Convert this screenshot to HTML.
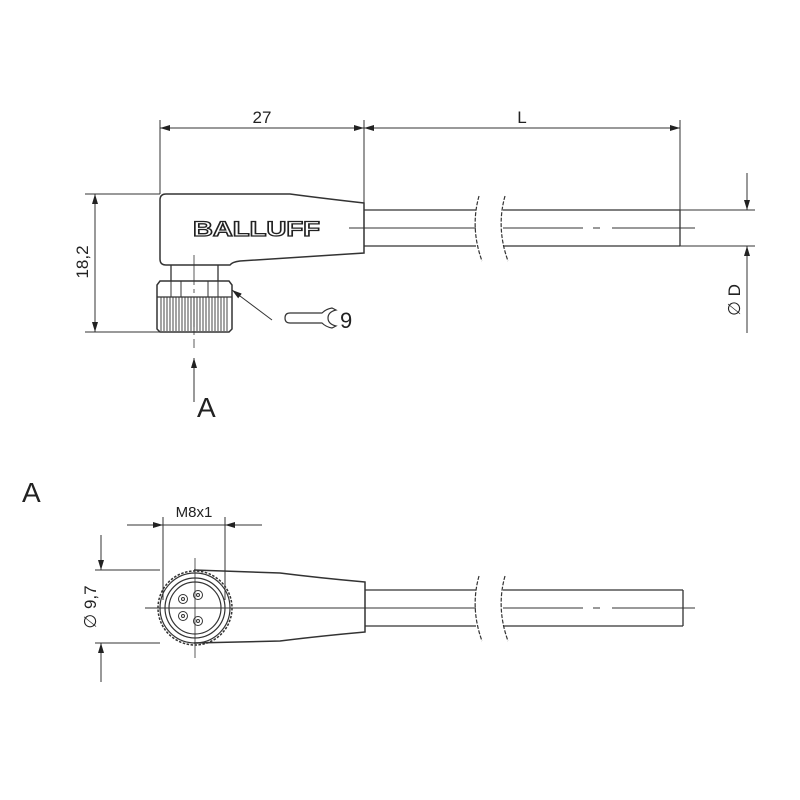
<!DOCTYPE html>
<html><head><meta charset="utf-8"><style>
html,body{margin:0;padding:0;background:#fff;}
svg{display:block;}
text{font-family:"Liberation Sans",Arial,sans-serif;fill:#222;}
</style></head><body>
<svg width="800" height="800" viewBox="0 0 800 800" xmlns="http://www.w3.org/2000/svg">
<defs>
<marker id="ar" viewBox="0 0 10 6" refX="10" refY="3" markerWidth="10" markerHeight="6" orient="auto-start-reverse" markerUnits="userSpaceOnUse">
<path d="M0,0 L10,3 L0,6 z" fill="#222"/></marker>
</defs>
<g stroke="#333" stroke-width="1" fill="none">
<line x1="160" y1="120" x2="160" y2="194"/>
<line x1="364" y1="120" x2="364" y2="205"/>
<line x1="680" y1="120" x2="680" y2="246"/>
<line x1="160" y1="128" x2="364" y2="128" marker-start="url(#ar)" marker-end="url(#ar)"/>
<line x1="364" y1="128" x2="680" y2="128" marker-start="url(#ar)" marker-end="url(#ar)"/>
<line x1="85" y1="194" x2="160" y2="194"/>
<line x1="85" y1="332" x2="160" y2="332"/>
<line x1="95" y1="194" x2="95" y2="332" marker-start="url(#ar)" marker-end="url(#ar)"/>
<path d="M166,194 L290,194 Q320,198 364,203 L364,253 Q320,256 240,261 Q232,262 230,265 L166,265 Q160,265 160,259 L160,200 Q160,194 166,194 Z" stroke-width="1.5"/>
<path d="M171,265 L171,281 M218,265 L218,281" stroke-width="1.3"/>
<path d="M160,281 L229,281 L232,285 L232,329 L229,332 L160,332 L157,329 L157,285 Z" stroke-width="1.5"/>
<line x1="157" y1="297" x2="232" y2="297" stroke-width="1.3"/>
<path d="M171,281V297 M181,281V297 M208,281V297 M218,281V297"/>
<path d="M161,297V331 M164,297V331 M167,297V331 M170,297V331 M173,297V331 M176,297V331 M179,297V331 M182,297V331 M185,297V331 M188,297V331 M191,297V331 M194,297V331 M197,297V331 M200,297V331 M203,297V331 M206,297V331 M209,297V331 M212,297V331 M215,297V331 M218,297V331 M221,297V331 M224,297V331 M227,297V331" stroke-width="0.9"/>
<line x1="194" y1="255" x2="194" y2="348" stroke-dasharray="30,4,4,4" stroke-width="0.8"/>
<path d="M364,210 H476 M364,246 H476 M503,210 H680 M503,246 H680 M680,210 V246" stroke-width="1.3"/>
<path d="M349,228 H476 M503,228 H583 M593,228 H600 M612,228 H695" stroke-width="0.9"/>
<path d="M479,196 Q470,228 482,261 M505,196 Q496,228 508,261" stroke-dasharray="4,1.5" stroke-width="1.2"/>
<line x1="680" y1="210" x2="755" y2="210"/>
<line x1="680" y1="246" x2="755" y2="246"/>
<line x1="747" y1="173" x2="747" y2="210" marker-end="url(#ar)"/>
<line x1="747" y1="333" x2="747" y2="246" marker-end="url(#ar)"/>
<line x1="272" y1="320" x2="232" y2="290" marker-end="url(#ar)"/>
<path d="M290,313 H322 Q326,309 332,308 L336,310 Q328,312 328,318 Q328,324 336,326 L332,328 Q326,327 322,323 H290 Q285,323 285,318 Q285,313 290,313 Z" stroke-width="1.2"/>
<line x1="194" y1="402" x2="194" y2="358" marker-end="url(#ar)"/>
<line x1="163" y1="517" x2="163" y2="600"/>
<line x1="225" y1="517" x2="225" y2="600"/>
<line x1="127" y1="525" x2="163" y2="525" marker-end="url(#ar)"/>
<line x1="262" y1="525" x2="225" y2="525" marker-end="url(#ar)"/>
<line x1="163" y1="525" x2="225" y2="525"/>
<line x1="95" y1="570" x2="160" y2="570"/>
<line x1="95" y1="643" x2="160" y2="643"/>
<line x1="101" y1="535" x2="101" y2="570" marker-end="url(#ar)"/>
<line x1="101" y1="682" x2="101" y2="643" marker-end="url(#ar)"/>
<path d="M194,570 L280,573 Q320,578 365,582 L365,632 Q320,636 280,641 L194,643" stroke-width="1.5"/>
<circle cx="195" cy="608" r="37" stroke-width="1.5" stroke-dasharray="2.5,1.5"/>
<circle cx="195" cy="608" r="35" stroke-width="1.2"/>
<circle cx="195" cy="608" r="30" stroke-width="1.2"/>
<circle cx="195" cy="608" r="26" stroke-width="1.2"/>
<circle cx="183" cy="599" r="4.5"/><circle cx="183" cy="599" r="1.5"/>
<circle cx="198" cy="595" r="4.5"/><circle cx="198" cy="595" r="1.5"/>
<circle cx="183" cy="616" r="4.5"/><circle cx="183" cy="616" r="1.5"/>
<circle cx="198" cy="621" r="4.5"/><circle cx="198" cy="621" r="1.5"/>
<line x1="195" y1="558" x2="195" y2="658" stroke-width="0.8"/>
<path d="M145,608 H476 M503,608 H583 M593,608 H600 M612,608 H695" stroke-width="0.9"/>
<path d="M365,590 H476 M365,626 H476 M503,590 H683 M503,626 H683 M683,590 V626" stroke-width="1.3"/>
<path d="M479,576 Q470,608 482,641 M505,576 Q496,608 508,641" stroke-dasharray="4,1.5" stroke-width="1.2"/>
</g>
<text x="262" y="123" font-size="17" text-anchor="middle">27</text>
<text x="522" y="123" font-size="17" text-anchor="middle">L</text>
<text transform="translate(88,262) rotate(-90)" font-size="17" text-anchor="middle">18,2</text>
<text transform="translate(740,300) rotate(-90)" font-size="17" text-anchor="middle">∅ D</text>
<text x="193" y="236" font-size="21" font-weight="bold" textLength="127" lengthAdjust="spacingAndGlyphs" style="fill:#fff;stroke:#222;stroke-width:1.3">BALLUFF</text>
<text x="340" y="328" font-size="22">9</text>
<text x="197" y="417" font-size="28">A</text>
<text x="22" y="502" font-size="28">A</text>
<text x="194" y="517" font-size="15" text-anchor="middle">M8x1</text>
<text transform="translate(96,607) rotate(-90)" font-size="17" text-anchor="middle">∅ 9,7</text>
</svg>
</body></html>
